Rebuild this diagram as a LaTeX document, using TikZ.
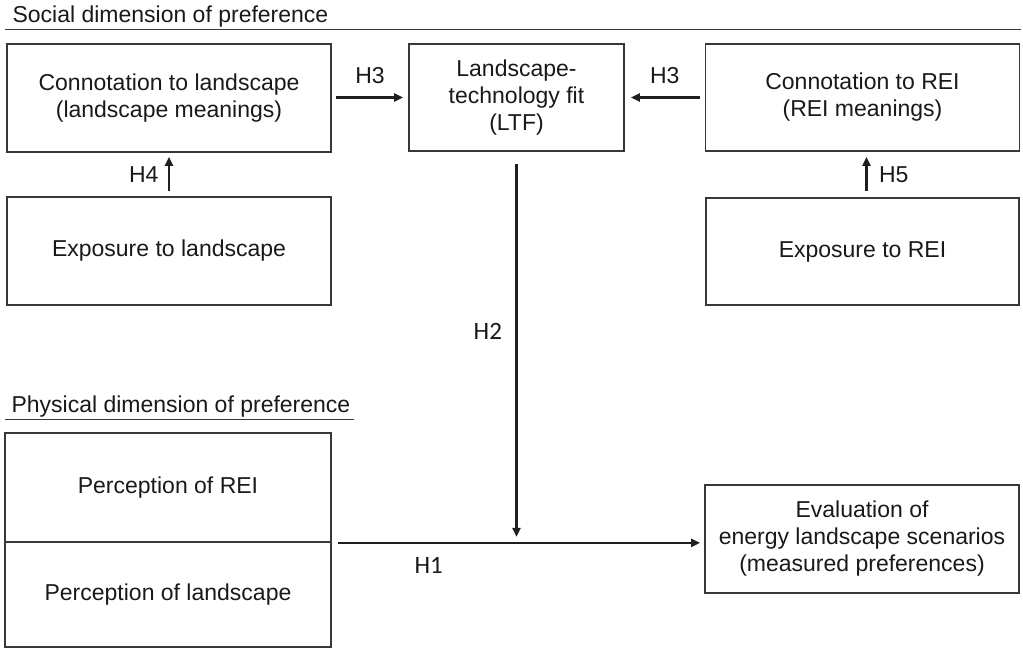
\documentclass[tikz,border=0pt]{standalone}
\usepackage{fontspec}
\setmainfont{Liberation Sans}
\newfontfamily\hfont{Carlito}
\usetikzlibrary{arrows.meta,calc}
\begin{document}
\begin{tikzpicture}[x=1pt,y=-1pt,
    txt/.style={text=black!90,font=\fontsize{23}{27}\selectfont},
    box/.style={txt,draw=black!78,line width=1.7pt,align=center,inner sep=0pt},
    arr/.style={draw=black!88,line width=2.4pt,-{Triangle[length=9pt,width=8pt]}},
    hlab/.style={txt},
    hlabc/.style={text=black!90,font=\hfont\fontsize{25}{28}\selectfont}]
        \useasboundingbox (0,0) rectangle (1023,648);
        % Titoli
        \node[txt,anchor=west] (soc) at (9,17) {Social dimension of preference};
        \draw[black!78,line width=1.6pt] (5,29.5) -- (1021,29.5);
        \node[txt,anchor=west] (phys) at (8,407) {Physical dimension of preference};
        \draw[black!78,line width=1.6pt] (5,419.5) -- (354,419.5);
        % Riquadri
        \node[box,minimum width=324pt,minimum height=108pt] (conl) at (169,98) {Connotation to landscape\\(landscape meanings)};
        \node[box,minimum width=215pt,minimum height=107pt] (ltf) at (516.5,97.5) {Landscape-\\technology fit\\(LTF)};
        \node[box,minimum width=314pt,minimum height=107pt] (conr) at (862.5,97.5) {Connotation to REI\\(REI meanings)};
        \node[box,minimum width=324pt,minimum height=108pt] (expl) at (169,251) {Exposure to landscape};
        \node[box,minimum width=313pt,minimum height=107pt] (expr) at (862.5,251.5) {Exposure to REI};
        \node[box,minimum width=326pt,minimum height=109pt] (prei) at (168,487.5) {Perception of REI};
        \node[box,minimum width=326pt,minimum height=105pt] (pland) at (168,594.5) {Perception of landscape};
        \node[box,minimum width=314pt,minimum height=108pt] (eval) at (862,539) {Evaluation of\\energy landscape scenarios\\(measured preferences)};
        \coordinate (meet) at (ltf.south |- prei.south);
        % Frecce
        \draw[arr,shorten <=4pt,shorten >=5pt] (conl.east |- ltf) -- (ltf.west)
            node[hlab,midway,yshift=22pt] {H3};
        \draw[arr,shorten <=5pt,shorten >=6pt] (conr.west) -- (ltf.east)
            node[hlab,midway,yshift=22pt] {H3};
        \draw[arr,shorten <=5pt,shorten >=4pt] (expl.north) -- (conl.south)
            node[hlab,midway,left=6pt] {H4};
        \draw[arr,shorten <=6pt,shorten >=5pt] ([xshift=4pt]expr.north) -- ([xshift=4pt]conr.south)
            node[hlab,midway,right=8pt] {H5};
        \draw[arr,shorten <=12pt,shorten >=6pt] (ltf.south) -- (meet)
            node[hlabc,pos=0.46,left=10pt] {H2};
        \draw[arr,shorten <=6pt,shorten >=4pt] (prei.south east) -- (eval.west |- prei.south east)
            node[hlabc,pos=0.26,yshift=-23pt] {H1};
    \end{tikzpicture}
\end{document}
